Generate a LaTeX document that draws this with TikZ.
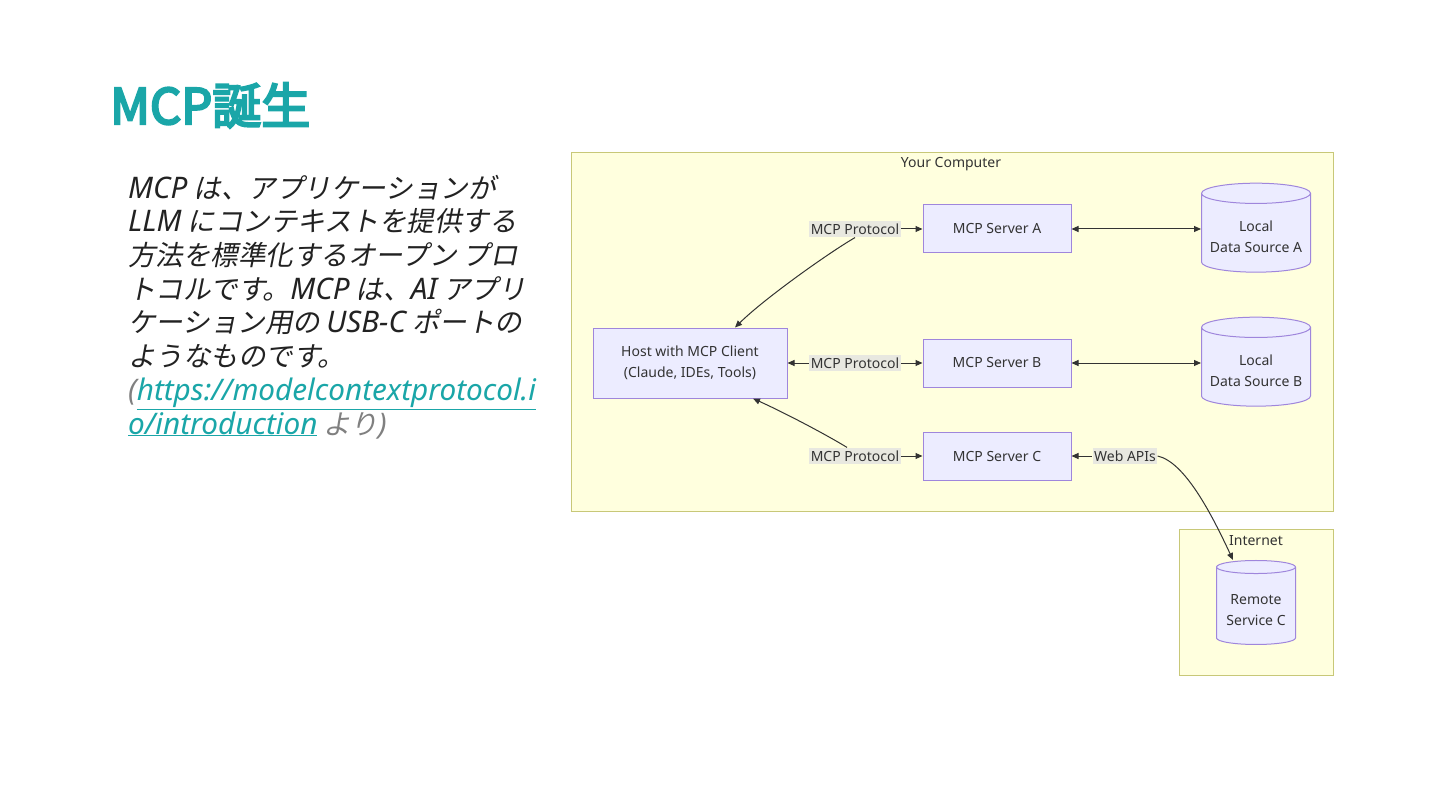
\documentclass[tikz,border=0pt]{standalone}
\usepackage{fontspec}
\usepackage{tikz}
\usetikzlibrary{positioning, arrows.meta, shapes.geometric}
\setmainfont{Noto Sans}
\newfontfamily\latfont{Noto Sans}[Scale=1.08]
\newfontfamily\jptitle{Noto Sans CJK JP}[FakeBold=4.5]
\newfontfamily\jpslant{Noto Sans CJK JP}[FakeSlant=0.2]
\definecolor{mcpteal}{HTML}{1AA6A8}
\definecolor{mcpink}{HTML}{222222}
\definecolor{mcpgray}{HTML}{808080}
\definecolor{mcpzone}{HTML}{FFFFDE}
\definecolor{mcpzoneedge}{HTML}{C8C878}
\definecolor{mcpnode}{HTML}{ECECFF}
\definecolor{mcpnodeedge}{HTML}{9F86DC}
\definecolor{mcplabel}{HTML}{E8E8E0}
\definecolor{mcpedge}{HTML}{333333}
\newcommand{\mcplat}[1]{{\latfont\itshape #1}}
% two lines of a cylinder, set a bit low as in the drawing
\newcommand{\mcpdb}[2]{\raisebox{-5pt}[\height][\depth]{\begin{tabular}{@{}c@{}}#1\\#2\end{tabular}}}

\begin{document}
\begin{tikzpicture}[x=1pt, y=-1pt, font=\fontsize{14}{21}\selectfont,
  >={Triangle[length=7pt, width=6pt]},
  zone/.style={draw=mcpzoneedge, fill=mcpzone, line width=1pt},
  zonetitle/.style={text=mcpedge, inner sep=0pt},
  srv/.style={draw=mcpnodeedge, fill=mcpnode, line width=1pt, text=mcpedge,
    minimum width=148pt, minimum height=48pt, align=center},
  db/.style={cylinder, shape border rotate=90, aspect=0.22, draw=mcpnodeedge,
    fill=mcpnode, line width=1pt, text=mcpedge, inner sep=0pt},
  elabel/.style={fill=mcplabel, text=mcpedge, inner xsep=1.5pt, inner ysep=3pt,
    font=\fontsize{14}{17}\selectfont},
  link/.style={draw=mcpedge, line width=1pt}]
\useasboundingbox (0,0) rectangle (1440,810);
\fill[white] (0,0) rectangle (1440,810);

% title and text on the left
\node[anchor=base west, inner sep=0pt, text=mcpteal,
  font=\jptitle\fontsize{49}{56}\selectfont] (title) at (110,124) {MCP誕生};
\node[anchor=base west, inner sep=0pt, align=left, text=mcpink,
  font=\jpslant\fontsize{27.5}{33.7}\selectfont] (intro) at (128,434) {%
\mcplat{MCP} は、アプリケーションが\\
\mcplat{LLM} にコンテキストを提供する\\
方法を標準化するオープン プロ\\
トコルです。\mcplat{MCP} は、\mcplat{AI} アプリ\\
ケーション用の \mcplat{USB-C} ポートの\\
ようなものです。\\
{\color{mcpgray}\mcplat{(}}{\color{mcpteal}\underline{\mcplat{https://modelcontextprotocol.i}}}\\
{\color{mcpteal}\underline{\mcplat{o/introduction}}}{\color{mcpgray}\ より\mcplat{)}}};

% zones
\draw[zone] (571,153) rectangle (1333,511);
\node[zonetitle] (yourpc) at (951,164) {Your Computer};
\draw[zone] (1179,529) rectangle (1333,675);
\node[zonetitle] (internet) at (1256,541) {Internet};

% nodes
\node[srv, minimum width=194pt, minimum height=70pt] (host) at (690,363)
  {Host with MCP Client\\(Claude, IDEs, Tools)};
\node[srv] (srvA) at (997,229) {MCP Server A};
\node[srv] (srvB) at (997,363) {MCP Server B};
\node[srv] (srvC) at (997,456) {MCP Server C};
\node[db, minimum width=109pt, minimum height=89pt] (dsA) at (1256,233) {\mcpdb{Local}{Data Source A}};
\node[db, minimum width=109pt, minimum height=89pt] (dsB) at (1256,367) {\mcpdb{Local}{Data Source B}};
\node[db, minimum width=79pt, minimum height=84pt] (remote) at (1256,606) {\mcpdb{Remote}{Service C}};

% edge labels
\node[elabel] (lblA) at (855,229) {MCP Protocol};
\node[elabel] (lblB) at (855,363) {MCP Protocol};
\node[elabel] (lblC) at (855,456) {MCP Protocol};
\node[elabel] (lblWeb) at (1125,456) {Web APIs};

% connectors
\draw[link,->] (lblA.south) .. controls (830,252) and (765,298) .. ([xshift=45pt]host.north);
\draw[link,->] (lblA) -- (srvA);
\draw[link,<-] (host) -- (lblB);
\draw[link,->] (lblB) -- (srvB);
\draw[link,->] ([xshift=-8pt]lblC.north) .. controls (825,434) and (785,413) .. ([xshift=63pt]host.south);
\draw[link,->] (lblC) -- (srvC);
\draw[link,<->] (srvA) -- (srvA -| dsA.west);
\draw[link,<->] (srvB) -- (srvB -| dsB.west);
\draw[link,<-] (srvC) -- (lblWeb);
\draw[link,->] (lblWeb.east) .. controls (1185,462) and (1212,515) .. ([xshift=-23pt]remote.north);
\end{tikzpicture}
\end{document}
